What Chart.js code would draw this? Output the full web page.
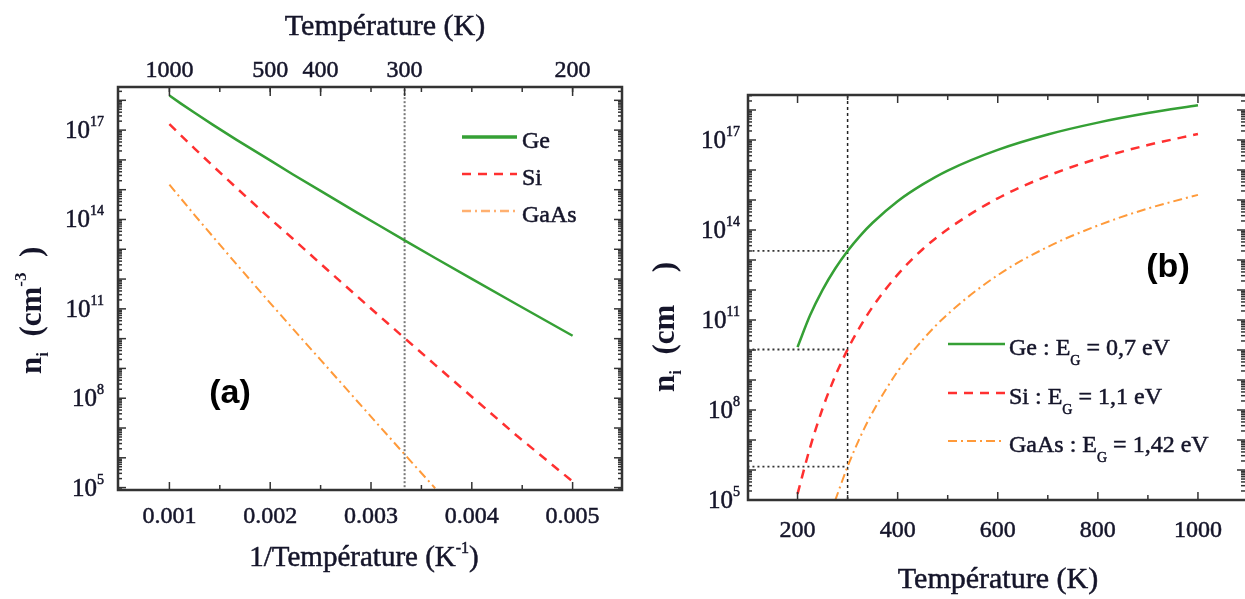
<!DOCTYPE html>
<html><head><meta charset="utf-8">
<script src="https://cdn.jsdelivr.net/npm/chart.js@4.4.1/dist/chart.umd.min.js"></script>
<style>
html,body{margin:0;padding:0;background:#fff;overflow:hidden;}
#wrap{position:relative;width:1245px;height:599px;background:#fff;}
.box{position:absolute;top:0;}
</style></head><body>
<div id="wrap">
<div class="box" style="left:0;width:640px;height:599px"><canvas id="ca" width="640" height="599"></canvas></div>
<div class="box" style="left:640px;width:605px;height:599px"><canvas id="cb" width="605" height="599"></canvas></div>
</div>
<script>
// ---------- data ----------
const temperatures = [200, 225, 250, 275, 300, 325, 350, 400, 450, 500, 600, 700, 800, 900, 1000];
const niGe   = [1.25e10, 1.43e11, 1.01e12, 5.1e12, 2.0e13, 6.4e13, 1.74e14, 9.1e14, 3.3e15, 9.6e15, 4.7e16, 1.53e17, 3.8e17, 7.9e17, 1.45e18];
const niSi   = [1.6e5, 5.6e6, 1.12e8, 1.32e9, 1.04e10, 6.0e10, 2.73e11, 3.26e12, 2.29e13, 1.06e14, 1.14e15, 6.4e15, 2.4e16, 6.8e16, 1.58e17];
const niGaAs = [null, null, null, 9.5e4, 1.30e6, 1.23e7, 8.4e7, 1.94e9, 2.19e10, 1.56e11, 3.12e12, 2.74e13, 1.41e14, 5.2e14, 1.48e15];
const seriesNames = ['Ge', 'Si', 'GaAs'];
const legendBParts = [['Ge : E', 'G', ' = 0,7 eV'], ['Si : E', 'G', ' = 1,1 eV'], ['GaAs : E', 'G', ' = 1,42 eV']];
const refTemperature = 300;
const topTempTicks = [1000, 500, 400, 300, 200];
const invTempTicks = [0.001, 0.002, 0.003, 0.004, 0.005];
const invTempMinor = [0.0015, 0.0025, 0.0035, 0.0045];
const tempTicks = [200, 400, 600, 800, 1000];
const tempMinor = [300, 500, 700, 900];
const yLabelExps = [5, 8, 11, 14, 17];

// ---------- styles ----------
const colors = {Ge: '#35a035', Si: '#ff3030', GaAs: '#ff9a3a'};
const dashes = {Ge: [], Si: [9, 7], GaAs: [9, 4, 2, 4]};
const widths = {Ge: 2.5, Si: 2.5, GaAs: 2};
const SERIF = '"Liberation Serif", "Times New Roman", serif';
const TXT = '#15152a';
const seriesVals = {Ge: niGe, Si: niSi, GaAs: niGaAs};
const i300 = temperatures.indexOf(refTemperature);

function richWidth(ctx, parts){ let w = 0; for (const p of parts){ ctx.font = p.font; w += ctx.measureText(p.t).width; } return w; }
function drawRich(ctx, parts, x, y, align, stroke){
  const w = richWidth(ctx, parts);
  let cx = align === 'right' ? x - w : align === 'center' ? x - w / 2 : x;
  ctx.textAlign = 'left'; ctx.textBaseline = 'alphabetic';
  for (const p of parts){
    ctx.font = p.font; ctx.fillText(p.t, cx, y + (p.dy || 0));
    if (stroke){ ctx.lineWidth = stroke; ctx.strokeStyle = ctx.fillStyle; ctx.strokeText(p.t, cx, y + (p.dy || 0)); }
    cx += ctx.measureText(p.t).width;
  }
}
function heavyText(ctx, t, x, y){ ctx.fillText(t, x, y); ctx.lineWidth = 0.5; ctx.strokeStyle = ctx.fillStyle; ctx.strokeText(t, x, y); }
function tickLine(ctx, x1, y1, x2, y2){ ctx.beginPath(); ctx.moveTo(x1, y1); ctx.lineTo(x2, y2); ctx.stroke(); }
function logTicks(ctx, y, a, leftSide, rightSide){
  const lo = Math.floor(Math.log10(y.min)), hi = Math.ceil(Math.log10(y.max));
  for (let e = lo; e <= hi; e++){
    for (let m = 1; m <= 9; m++){
      const v = m * Math.pow(10, e);
      if (v < y.min || v > y.max) continue;
      const py = y.getPixelForValue(v);
      const len = m === 1 ? 8 : 4;
      if (leftSide) tickLine(ctx, a.left, py, a.left + len, py);
      if (rightSide) tickLine(ctx, a.right, py, a.right - len, py);
    }
  }
}
function yLabels(ctx, y, xRight){
  for (const e of yLabelExps){
    const py = y.getPixelForValue(Math.pow(10, e));
    drawRich(ctx, [{t: '10', font: '25px ' + SERIF}, {t: String(e), font: '14px ' + SERIF, dy: -12}], xRight, py + 8, 'right', 0.5);
  }
}
function yTitle(ctx, bx, by, withExp){
  ctx.save(); ctx.translate(bx, by); ctx.rotate(-Math.PI / 2);
  const F = 'bold 31px ' + SERIF, f = 'bold 17px ' + SERIF;
  const parts = [{t: 'n', font: F}, {t: 'i', font: f, dy: 7}, {t: '  (cm', font: F}];
  if (withExp) parts.push({t: '-3', font: f, dy: -15});
  else parts.push({t: '    ', font: f});
  parts.push({t: '  )', font: F});
  ctx.fillStyle = TXT; drawRich(ctx, parts, 0, 0, 'left');
  ctx.restore();
}

// ---------- panel (a) ----------
function seriesA(vals){
  const pts = [];
  temperatures.forEach((t, i) => { if (vals[i] != null) pts.push({x: 1 / t, y: vals[i]}); });
  return pts.reverse();
}
const dsA = seriesNames.map(n => ({
  label: n, data: seriesA(seriesVals[n]), borderColor: colors[n], borderDash: dashes[n],
  borderWidth: widths[n], pointRadius: 0, tension: 0, fill: false
}));
dsA.push({label: 'ref', data: [{x: 1 / refTemperature, y: 1e3}, {x: 1 / refTemperature, y: 1e20}],
  borderColor: '#777', borderDash: [2, 2], borderWidth: 2, pointRadius: 0, tension: 0});

const plugA = {
  id: 'plugA',
  afterDraw(chart){
    const {ctx, chartArea: a, scales: {x, y}} = chart;
    ctx.save();
    ctx.strokeStyle = '#333'; ctx.setLineDash([]); ctx.lineWidth = 1.5;
    for (const v of invTempTicks){ const px = x.getPixelForValue(v); tickLine(ctx, px, a.bottom, px, a.bottom - 8); tickLine(ctx, px, a.top, px, a.top + 5); }
    for (const v of invTempMinor){ const px = x.getPixelForValue(v); tickLine(ctx, px, a.bottom, px, a.bottom - 5); tickLine(ctx, px, a.top, px, a.top + 5); }
    for (const t of topTempTicks){ const px = x.getPixelForValue(1 / t); tickLine(ctx, px, a.top, px, a.top + 9); }
    logTicks(ctx, y, a, true, true);
    ctx.lineWidth = 2.5; ctx.strokeStyle = '#333';
    ctx.strokeRect(a.left, a.top, a.right - a.left, a.bottom - a.top);
    // labels
    ctx.fillStyle = TXT; ctx.textAlign = 'center'; ctx.textBaseline = 'alphabetic';
    ctx.font = '24px ' + SERIF;
    for (const v of invTempTicks){ heavyText(ctx, v.toFixed(3), x.getPixelForValue(v), 523); }
    for (const t of topTempTicks){ heavyText(ctx, String(t), x.getPixelForValue(1 / t), 77); }
    yLabels(ctx, y, 104);
    ctx.fillStyle = TXT; ctx.font = '30px ' + SERIF; ctx.textAlign = 'center';
    heavyText(ctx, 'Température (K)', 385, 35);
    drawRich(ctx, [{t: '1/Température (K', font: '29px ' + SERIF}, {t: '-1', font: '16px ' + SERIF, dy: -13}, {t: ')', font: '29px ' + SERIF}], 364, 566, 'center', 0.5);
    yTitle(ctx, 41, 374, true);
    // legend
    const ly = [137, 174, 211];
    seriesNames.forEach((n, i) => {
      ctx.strokeStyle = n === 'GaAs' ? '#ffb070' : colors[n]; ctx.lineWidth = n === 'Ge' ? 3.5 : 2.5;
      ctx.setLineDash(dashes[n]); tickLine(ctx, 462, ly[i], 517, ly[i]); ctx.setLineDash([]);
      ctx.fillStyle = TXT; ctx.font = '24px ' + SERIF; ctx.textAlign = 'left';
      heavyText(ctx, n, 522, ly[i] + 11);
    });
    ctx.font = 'bold 34px "Liberation Sans", Arial, sans-serif'; ctx.textAlign = 'center'; ctx.textBaseline = 'middle';
    ctx.fillStyle = '#000'; ctx.fillText('(a)', 230, 394);
    ctx.restore();
  }
};

new Chart(document.getElementById('ca'), {
  type: 'line',
  data: {datasets: dsA},
  options: {
    responsive: false, animation: false, devicePixelRatio: 1,
    layout: {padding: {top: 87, right: 18, left: 0, bottom: 0}},
    plugins: {legend: {display: false}, tooltip: {enabled: false}},
    scales: {
      x: {type: 'linear', position: 'bottom', min: 0.00049, max: 0.00549,
          ticks: {display: false}, grid: {display: false}, border: {display: false}, afterFit: s => { s.height = 109; }},
      y: {type: 'logarithmic', position: 'left', min: 8.3e4, max: 2.8e18,
          ticks: {display: false}, grid: {display: false}, border: {display: false}, afterFit: s => { s.width = 118; }}
    }
  },
  plugins: [plugA]
});

// ---------- panel (b) ----------
function seriesB(vals){
  const pts = [];
  temperatures.forEach((t, i) => { if (vals[i] != null) pts.push({x: t, y: vals[i]}); });
  return pts;
}
const dsB = seriesNames.map(n => ({
  label: n, data: seriesB(seriesVals[n]), borderColor: colors[n], borderDash: dashes[n],
  borderWidth: widths[n], pointRadius: 0, cubicInterpolationMode: 'monotone', fill: false
}));
dsB.push({label: 'refV', data: [{x: refTemperature, y: 1e3}, {x: refTemperature, y: 1e20}],
  borderColor: '#222', borderDash: [3, 3], borderWidth: 1.5, pointRadius: 0, tension: 0});
seriesNames.forEach(n => {
  const v = seriesVals[n][i300];
  dsB.push({label: 'refH' + n, data: [{x: 0, y: v}, {x: refTemperature, y: v}],
    borderColor: '#333', borderDash: [2, 3], borderWidth: 1.8, pointRadius: 0, tension: 0});
});

const plugB = {
  id: 'plugB',
  afterDraw(chart){
    const {ctx, chartArea: a, scales: {x, y}} = chart;
    ctx.save();
    ctx.strokeStyle = '#333'; ctx.setLineDash([]); ctx.lineWidth = 1.5;
    for (const v of tempTicks){ const px = x.getPixelForValue(v); tickLine(ctx, px, a.bottom, px, a.bottom - 8); tickLine(ctx, px, a.top, px, a.top + 8); }
    for (const v of tempMinor){ const px = x.getPixelForValue(v); tickLine(ctx, px, a.bottom, px, a.bottom - 5); tickLine(ctx, px, a.top, px, a.top + 5); }
    logTicks(ctx, y, a, true, true);
    ctx.lineWidth = 2.5; ctx.strokeStyle = '#333';
    ctx.beginPath(); ctx.moveTo(a.right + 2, a.top); ctx.lineTo(a.left, a.top); ctx.lineTo(a.left, a.bottom); ctx.lineTo(a.right + 2, a.bottom); ctx.stroke();
    ctx.fillStyle = TXT; ctx.textAlign = 'center'; ctx.textBaseline = 'alphabetic';
    ctx.font = '24px ' + SERIF;
    for (const v of tempTicks){ heavyText(ctx, String(v), x.getPixelForValue(v), 537); }
    yLabels(ctx, y, 100);
    ctx.fillStyle = TXT; ctx.font = '30px ' + SERIF; ctx.textAlign = 'center';
    heavyText(ctx, 'Température (K)', 358, 588);
    yTitle(ctx, 34, 392, false);
    const ly = [344, 393, 441];
    seriesNames.forEach((n, i) => {
      ctx.strokeStyle = colors[n]; ctx.lineWidth = widths[n];
      ctx.setLineDash(dashes[n]); tickLine(ctx, 308, ly[i], 365, ly[i]); ctx.setLineDash([]);
      ctx.fillStyle = TXT;
      const p = legendBParts[i];
      drawRich(ctx, [{t: p[0], font: '24px ' + SERIF}, {t: p[1], font: '14px ' + SERIF, dy: 10}, {t: p[2], font: '24px ' + SERIF}], 369, ly[i] + 11, 'left', 0.5);
    });
    ctx.font = 'bold 34px "Liberation Sans", Arial, sans-serif'; ctx.textAlign = 'center'; ctx.textBaseline = 'middle';
    ctx.fillStyle = '#000'; ctx.fillText('(b)', 528, 268);
    ctx.restore();
  }
};

new Chart(document.getElementById('cb'), {
  type: 'line',
  data: {datasets: dsB},
  options: {
    responsive: false, animation: false, devicePixelRatio: 1,
    layout: {padding: {top: 95, right: 0, left: 0, bottom: 0}},
    plugins: {legend: {display: false}, tooltip: {enabled: false}},
    scales: {
      x: {type: 'linear', position: 'bottom', min: 101, max: 1094,
          ticks: {display: false}, grid: {display: false}, border: {display: false}, afterFit: s => { s.height = 99; }},
      y: {type: 'logarithmic', position: 'left', min: 1e5, max: 3.16e18,
          ticks: {display: false}, grid: {display: false}, border: {display: false}, afterFit: s => { s.width = 108; }}
    }
  },
  plugins: [plugB]
});
</script>
</body></html>
